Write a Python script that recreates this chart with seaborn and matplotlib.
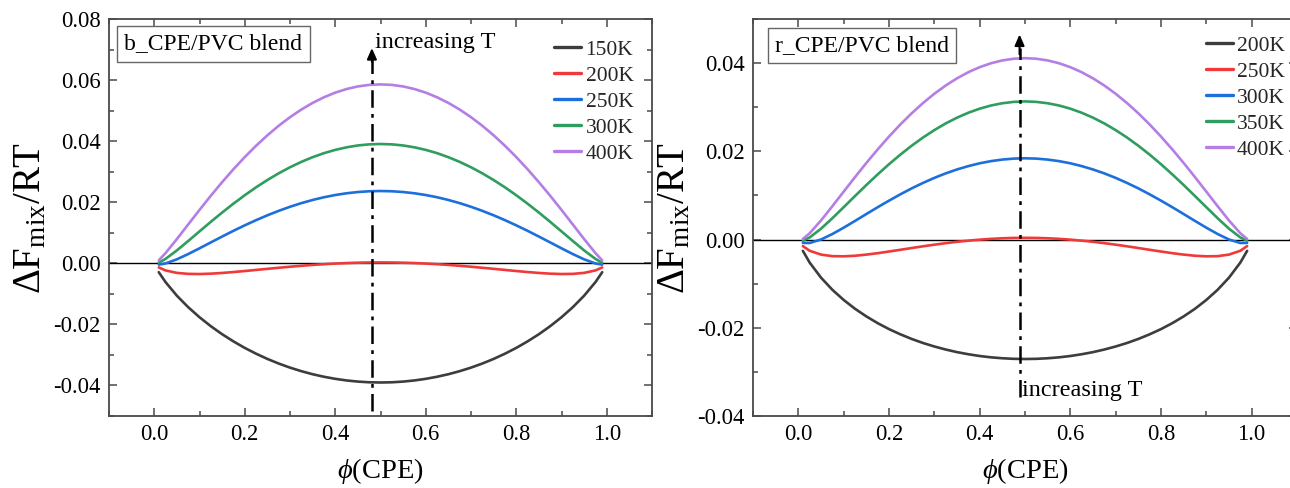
import matplotlib
matplotlib.use("Agg")
import matplotlib.pyplot as plt
import seaborn as sns
import pandas as pd
from matplotlib.ticker import MultipleLocator, FormatStrFormatter
from matplotlib.lines import Line2D

# ---------------- data ----------------
phi = [0.01, 0.025, 0.05, 0.075, 0.10, 0.125, 0.15, 0.175, 0.20, 0.225, 0.25, 0.275, 0.30, 0.325,
       0.35, 0.375, 0.40, 0.425, 0.45, 0.475, 0.50, 0.525, 0.55, 0.575, 0.60, 0.625, 0.65, 0.675,
       0.70, 0.725, 0.75, 0.775, 0.80, 0.825, 0.85, 0.875, 0.90, 0.925, 0.95, 0.975, 0.99]

# left panel: b_CPE/PVC blend
b_labels = ["150K", "200K", "250K", "300K", "400K"]
b_150 = [-0.00291, -0.00616, -0.01061, -0.01437, -0.01766, -0.02059, -0.02322, -0.02557, -0.02770, -0.02960,
         -0.03131, -0.03282, -0.03416, -0.03532, -0.03632, -0.03715, -0.03783, -0.03836, -0.03873, -0.03896,
         -0.03903,
         -0.03896, -0.03873, -0.03836, -0.03783, -0.03715, -0.03632, -0.03532, -0.03416, -0.03282, -0.03131,
         -0.02960, -0.02770, -0.02557, -0.02322, -0.02059, -0.01766, -0.01437, -0.01061, -0.00616, -0.00291]
b_200 = [-0.00135, -0.00233, -0.00314, -0.00346, -0.00351, -0.00339, -0.00316, -0.00286, -0.00253, -0.00217,
         -0.00181, -0.00146, -0.00112, -0.00081, -0.00053, -0.00029, -0.00008, 0.00008, 0.00020, 0.00027,
         0.00029,
         0.00027, 0.00020, 0.00008, -0.00008, -0.00029, -0.00053, -0.00081, -0.00112, -0.00146, -0.00181,
         -0.00217, -0.00253, -0.00286, -0.00316, -0.00339, -0.00351, -0.00346, -0.00314, -0.00233, -0.00135]
b_250 = [-0.00043, -0.00005, 0.00130, 0.00303, 0.00491, 0.00684, 0.00876, 0.01064, 0.01243, 0.01413,
         0.01572, 0.01718, 0.01851, 0.01970, 0.02074, 0.02163, 0.02236, 0.02293, 0.02334, 0.02359,
         0.02367,
         0.02359, 0.02334, 0.02293, 0.02236, 0.02163, 0.02074, 0.01970, 0.01851, 0.01718, 0.01572,
         0.01413, 0.01243, 0.01064, 0.00876, 0.00684, 0.00491, 0.00303, 0.00130, -0.00005, -0.00043]
b_300 = [0.00018, 0.00145, 0.00423, 0.00730, 0.01045, 0.01358, 0.01662, 0.01953, 0.02229, 0.02488,
         0.02727, 0.02947, 0.03145, 0.03321, 0.03475, 0.03607, 0.03714, 0.03798, 0.03859, 0.03895,
         0.03907,
         0.03895, 0.03859, 0.03798, 0.03714, 0.03607, 0.03475, 0.03321, 0.03145, 0.02947, 0.02727,
         0.02488, 0.02229, 0.01953, 0.01662, 0.01358, 0.01045, 0.00730, 0.00423, 0.00145, 0.00018]
b_400 = [0.00096, 0.00336, 0.00794, 0.01272, 0.01748, 0.02212, 0.02657, 0.03081, 0.03479, 0.03849,
         0.04191, 0.04504, 0.04785, 0.05035, 0.05252, 0.05437, 0.05589, 0.05707, 0.05792, 0.05842,
         0.05859,
         0.05842, 0.05792, 0.05707, 0.05589, 0.05437, 0.05252, 0.05035, 0.04785, 0.04504, 0.04191,
         0.03849, 0.03479, 0.03081, 0.02657, 0.02212, 0.01748, 0.01272, 0.00794, 0.00336, 0.00096]

# right panel: r_CPE/PVC blend
r_labels = ["200K", "250K", "300K", "350K", "400K"]
r_200 = [-0.00256, -0.00522, -0.00863, -0.01138, -0.01369, -0.01569, -0.01742, -0.01895, -0.02030, -0.02148,
         -0.02253, -0.02345, -0.02424, -0.02493, -0.02552, -0.02600, -0.02640, -0.02670, -0.02691, -0.02704,
         -0.02708,
         -0.02704, -0.02691, -0.02670, -0.02640, -0.02600, -0.02552, -0.02493, -0.02424, -0.02345, -0.02253,
         -0.02148, -0.02030, -0.01895, -0.01742, -0.01569, -0.01369, -0.01138, -0.00863, -0.00522, -0.00256]
r_250 = [-0.00148, -0.00254, -0.00341, -0.00376, -0.00380, -0.00367, -0.00341, -0.00309, -0.00271, -0.00232,
         -0.00192, -0.00153, -0.00116, -0.00082, -0.00051, -0.00025, -0.00002, 0.00016, 0.00029, 0.00037,
         0.00039,
         0.00037, 0.00029, 0.00016, -0.00002, -0.00025, -0.00051, -0.00082, -0.00116, -0.00153, -0.00192,
         -0.00232, -0.00271, -0.00309, -0.00341, -0.00367, -0.00380, -0.00376, -0.00341, -0.00254, -0.00148]
r_300 = [-0.00076, -0.00078, 0.00001, 0.00125, 0.00269, 0.00422, 0.00578, 0.00733, 0.00882, 0.01025,
         0.01160, 0.01284, 0.01398, 0.01500, 0.01589, 0.01665, 0.01729, 0.01778, 0.01813, 0.01835,
         0.01842,
         0.01835, 0.01813, 0.01778, 0.01729, 0.01665, 0.01589, 0.01500, 0.01398, 0.01284, 0.01160,
         0.01025, 0.00882, 0.00733, 0.00578, 0.00422, 0.00269, 0.00125, 0.00001, -0.00078, -0.00076]
r_350 = [-0.00025, 0.00048, 0.00246, 0.00483, 0.00733, 0.00986, 0.01236, 0.01477, 0.01708, 0.01925,
         0.02127, 0.02313, 0.02481, 0.02632, 0.02763, 0.02875, 0.02967, 0.03039, 0.03090, 0.03121,
         0.03132,
         0.03121, 0.03090, 0.03039, 0.02967, 0.02875, 0.02763, 0.02632, 0.02481, 0.02313, 0.02127,
         0.01925, 0.01708, 0.01477, 0.01236, 0.00986, 0.00733, 0.00483, 0.00246, 0.00048, -0.00025]
r_400 = [0.00014, 0.00143, 0.00433, 0.00755, 0.01086, 0.01415, 0.01736, 0.02043, 0.02335, 0.02609,
         0.02862, 0.03095, 0.03305, 0.03492, 0.03655, 0.03794, 0.03908, 0.03997, 0.04061, 0.04099,
         0.04112,
         0.04099, 0.04061, 0.03997, 0.03908, 0.03794, 0.03655, 0.03492, 0.03305, 0.03095, 0.02862,
         0.02609, 0.02335, 0.02043, 0.01736, 0.01415, 0.01086, 0.00755, 0.00433, 0.00143, 0.00014]

colors = ["#3d3d3d", "#f03a3a", "#1d6fdc", "#2f9d5e", "#b47ee4"]

# ---------------- style ----------------
sns.set_theme(style="ticks")
plt.rcParams["font.family"] = ["Liberation Serif", "DejaVu Serif"]
plt.rcParams["mathtext.fontset"] = "custom"
plt.rcParams["mathtext.rm"] = "Liberation Serif"
plt.rcParams["mathtext.it"] = "Liberation Serif:italic"
plt.rcParams["mathtext.bf"] = "Liberation Serif:bold"
plt.rcParams["axes.unicode_minus"] = False

W, H = 1290, 488
fig = plt.figure(figsize=(W / 100, H / 100), dpi=100)

def frac(x0, y0, x1, y1):
    return [x0 / W, 1 - y1 / H, (x1 - x0) / W, (y1 - y0) / H]

ax1 = fig.add_axes(frac(109, 19, 652, 416))
ax2 = fig.add_axes(frac(753, 19, 1297, 416))

spine_c = "#4a4a4a"

def draw(ax, series, labels, ylim, title, arrow_x, arrow_y0, arrow_y1, txt_xy, leg_anchor, title_xy):
    rows = []
    for lab, vals in zip(labels, series):
        for p, v in zip(phi, vals):
            rows.append({"phi": p, "F": v, "T": lab})
    df = pd.DataFrame(rows)
    ax.axhline(0, color="black", lw=1.0, zorder=1)
    sns.lineplot(data=df, x="phi", y="F", hue="T", palette=dict(zip(labels, colors)),
                 estimator=None, sort=False, lw=1.9, ax=ax, legend=False, zorder=3)
    ax.set_xlim(-0.1, 1.1)
    ax.set_ylim(*ylim)
    ax.xaxis.set_major_locator(MultipleLocator(0.2))
    ax.xaxis.set_minor_locator(MultipleLocator(0.1))
    ax.yaxis.set_major_locator(MultipleLocator(0.02))
    ax.yaxis.set_minor_locator(MultipleLocator(0.01))
    ax.xaxis.set_major_formatter(FormatStrFormatter("%.1f"))
    ax.yaxis.set_major_formatter(FormatStrFormatter("%.2f"))
    ax.tick_params(which="both", direction="in", top=True, right=True, color=spine_c, width=1.1)
    ax.tick_params(which="major", length=6, labelsize=16.3, pad=6, labelcolor="black")
    ax.tick_params(which="minor", length=3.5)
    for s in ax.spines.values():
        s.set_color(spine_c)
        s.set_linewidth(1.3)
    ax.set_xlabel(r"$\phi$(CPE)", fontsize=20.5, labelpad=8, color="black")
    ax.set_ylabel(r"$\Delta$F$_{\rm mix}$/RT", fontsize=28, labelpad=3, color="black")
    # arrow (dash-dot)
    ax.plot([arrow_x, arrow_x], [arrow_y0, arrow_y1 - 0.003], color="black", lw=1.8,
            dashes=(7, 2.5, 1.5, 2.5), zorder=4)
    ax.annotate("", xy=(arrow_x, arrow_y1), xytext=(arrow_x, arrow_y1 - 0.0045),
                arrowprops=dict(arrowstyle="-|>,head_length=0.5,head_width=0.22", color="black",
                                lw=1.5, mutation_scale=13, shrinkA=0, shrinkB=0), zorder=5)
    ax.text(txt_xy[0], txt_xy[1], "increasing T", fontsize=17.5, ha="left", va="center", color="black")
    ax.text(title_xy[0], title_xy[1], title, transform=ax.transAxes, fontsize=17,
            ha="left", va="center", color="black",
            bbox=dict(boxstyle="square,pad=0.3", fc="white", ec="#666666", lw=1.0))
    handles = [Line2D([], [], color=c, lw=2.4) for c in colors]
    ax.legend(handles, labels, loc="upper right", bbox_to_anchor=leg_anchor, frameon=False,
              fontsize=15.5, handlelength=1.25, handletextpad=0.2, labelspacing=0.28,
              borderaxespad=0.0)

draw(ax1, [b_150, b_200, b_250, b_300, b_400], b_labels, (-0.05, 0.08), "b_CPE/PVC blend",
     0.481, -0.0485, 0.0705, (0.487, 0.0722), (0.982, 0.97), (0.0285, 0.937))
draw(ax2, [r_200, r_250, r_300, r_350, r_400], r_labels, (-0.04, 0.05), "r_CPE/PVC blend",
     0.488, -0.0358, 0.0465, (0.494, -0.0343), (0.994, 0.98), (0.0404, 0.933))

fig.savefig("out.png", dpi=100)
